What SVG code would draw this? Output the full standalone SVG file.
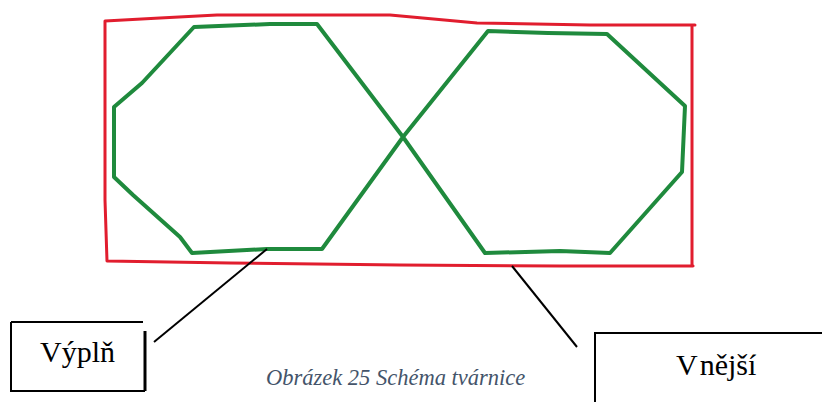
<svg xmlns="http://www.w3.org/2000/svg" width="822" height="402" viewBox="0 0 822 402">
  <style>
    .outer { fill: none; stroke: #e11d2e; stroke-width: 3; stroke-linejoin: round; stroke-linecap: round; }
    .fill { fill: none; stroke: #1f8a3d; stroke-width: 4; stroke-linejoin: round; stroke-linecap: round; }
    .lead { fill: none; stroke: #000; stroke-width: 2; }
    .label { font-family: "Liberation Serif", "Times New Roman", serif; font-size: 30px; fill: #000; }
    .caption { font-family: "Liberation Serif", "Times New Roman", serif; font-style: italic; font-size: 22.5px; fill: #44546a; }
  </style>
  <rect width="822" height="402" fill="#fff"/>

  <!-- block outline -->
  <g id="outline">
    <path class="outer" d="M105,21 L160,18 L217,15 L390,15 L477,23 L590,25 L695,25 M692,25 L692,265 L693,266 L560,266 L400,265 L230,263 L107,261 M107,261 L105,200 L105,100 L105,21"/>
  </g>

  <!-- filling: two crossing octagons -->
  <g id="fill">
    <path class="fill" d="M403,137 L317,24 L270,24 L194,27 L142,83 L114,107 L114,177 L133,195 L180,237 L192,253 L267,249 L322,249 L403,137 L488,31 L548,33 L607,34 L685,106 L682,172 L610,253 L560,251 L485,253 Z"/>
  </g>

  <!-- leader lines -->
  <g id="connectors">
    <line class="lead" x1="267" y1="249" x2="154" y2="342"/>
    <line class="lead" x1="512" y1="266" x2="577" y2="347"/>
  </g>

  <g id="vypln">
    <path class="lead" d="M11,322 L143,322 M11,322 L11,391 L145,391"/>
    <line x1="145" y1="331" x2="145" y2="391" stroke="#000" stroke-width="3"/>
    <text class="label" x="40" y="362">Výplň</text>
  </g>

  <g id="vnejsi">
    <path class="lead" d="M595,402 L595,333 L822,333"/>
    <text class="label" x="676" y="375">V<tspan dx="2">nější</tspan></text>
  </g>

  <text class="caption" x="266" y="385">Obrázek 25 Schéma tvárnice</text>
</svg>
